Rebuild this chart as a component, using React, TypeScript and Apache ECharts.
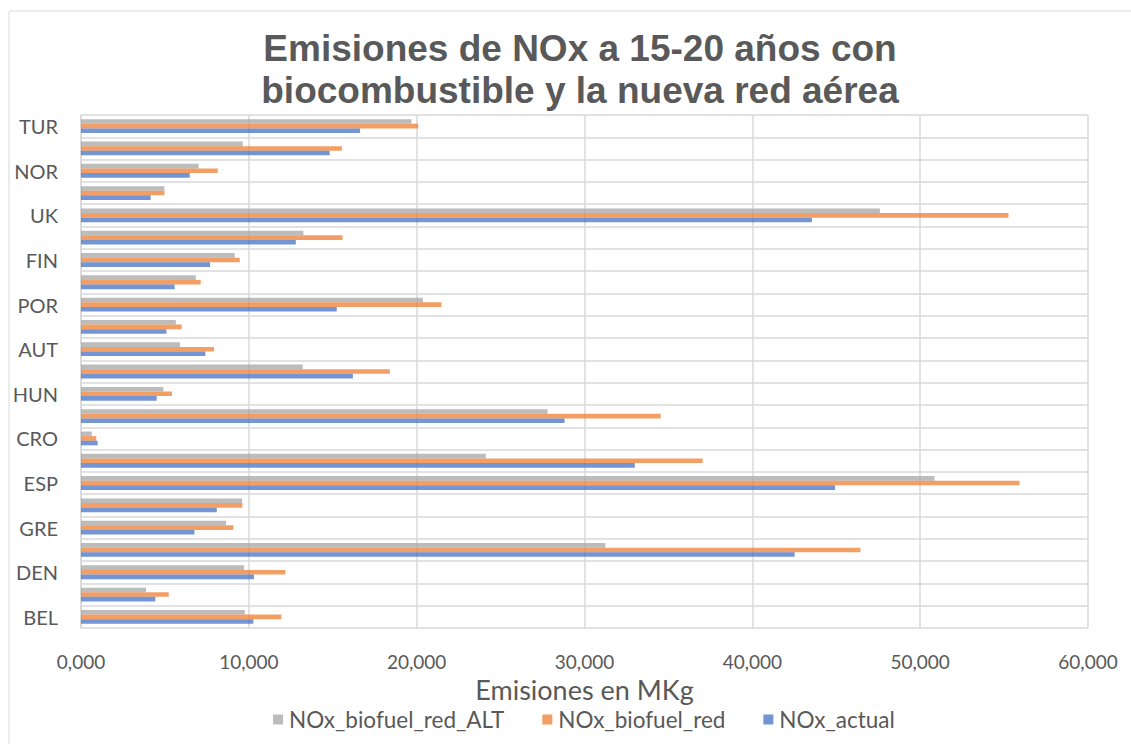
import React, { useEffect, useRef } from "react";
import * as echarts from "echarts";

const categories = [
  "BEL", "CZE", "DEN", "GER", "GRE", "IRL", "ESP", "FRA", "CRO", "ITA", "HUN", "HOL",
  "AUT", "POL", "POR", "ROM", "FIN", "SWE", "UK", "ISL", "NOR", "SUI", "TUR",
];

const noxBiofuelRedAlt = [
  9.76, 3.87, 9.72, 31.24, 8.64, 9.6, 50.85, 24.12, 0.64, 27.8, 4.91, 13.21,
  5.9, 5.65, 20.37, 6.84, 9.16, 13.25, 47.6, 4.97, 7.01, 9.64, 19.69,
];

const noxBiofuelRed = [
  11.94, 5.23, 12.18, 46.44, 9.08, 9.62, 55.92, 37.04, 0.91, 34.54, 5.42, 18.4,
  7.93, 6.0, 21.48, 7.13, 9.46, 15.58, 55.26, 4.97, 8.15, 15.54, 20.09,
];

const noxActual = [
  10.27, 4.43, 10.31, 42.52, 6.76, 8.09, 44.93, 33.0, 0.99, 28.81, 4.51, 16.2,
  7.41, 5.09, 15.24, 5.58, 7.69, 12.8, 43.55, 4.15, 6.48, 14.82, 16.63,
];

const seriesNames = ["NOx_biofuel_red_ALT", "NOx_biofuel_red", "NOx_actual"];
const seriesColors = ["#a5a5a5", "#ed7d31", "#4472c4"];

export default function App() {
  const ref = useRef<HTMLDivElement>(null);

  useEffect(() => {
    if (!ref.current) return;
    const chart = echarts.init(ref.current, undefined, { renderer: "svg" });
    const dataSets = [noxBiofuelRedAlt, noxBiofuelRed, noxActual];
    chart.setOption({
      animation: false,
      backgroundColor: "#ffffff",
      graphic: [
        {
          type: "rect",
          shape: { x: 9, y: 11, width: 1200, height: 800, r: 2 },
          style: { fill: "none", stroke: "#d9d9d9", lineWidth: 1 },
          silent: true,
        },
      ],
      title: {
        text: "Emisiones de NOx a 15-20 años con\nbiocombustible y la nueva red aérea",
        left: 575,
        textAlign: "center",
        top: 22,
        textStyle: {
          fontFamily: "Liberation Sans",
          fontWeight: "bold",
          fontSize: 37,
          lineHeight: 42,
          color: "#595959",
        },
      },
      legend: {
        data: seriesNames,
        bottom: 8,
        left: 268,
        itemWidth: 10,
        itemHeight: 10,
        itemGap: 38,
        icon: "rect",
        textStyle: { fontFamily: "Lato", fontSize: 22.5, color: "#595959", padding: [0, 0, 0, 1] },
      },
      grid: { left: 81, right: 43, top: 115, bottom: 116, containLabel: false },
      xAxis: {
        type: "value",
        min: 0,
        max: 60,
        interval: 10,
        name: "Emisiones en MKg",
        nameLocation: "middle",
        nameGap: 48,
        nameTextStyle: { fontFamily: "Lato", fontSize: 27, color: "#595959" },
        axisLine: { show: false },
        axisTick: { show: false },
        axisLabel: {
          fontFamily: "Lato",
          fontSize: 19,
          color: "#595959",
          margin: 24,
          formatter: (v: number) => v.toFixed(3).replace(".", ","),
        },
        splitLine: { show: true, lineStyle: { color: "#d9d9d9", width: 1.5 } },
      },
      yAxis: {
        type: "category",
        data: categories,
        axisLine: { show: true, lineStyle: { color: "#d9d9d9", width: 1.5 } },
        axisTick: { show: false },
        axisLabel: {
          interval: 1,
          fontFamily: "Lato",
          fontSize: 20,
          color: "#595959",
          margin: 23,
        },
        splitLine: { show: true, interval: 0, lineStyle: { color: "#d9d9d9", width: 1.5 } },
      },
      series: seriesNames.map((name, i) => ({
        name,
        type: "bar",
        data: dataSets[i],
        barGap: "0%",
        barCategoryGap: "38%",
        itemStyle: { color: seriesColors[i], opacity: 0.75 },
      })),
    });
    return () => chart.dispose();
  }, []);

  return (
    <div
      ref={ref}
      style={{ position: "absolute", left: 0, top: 0, width: 1131, height: 744, background: "#fff" }}
    />
  );
}
